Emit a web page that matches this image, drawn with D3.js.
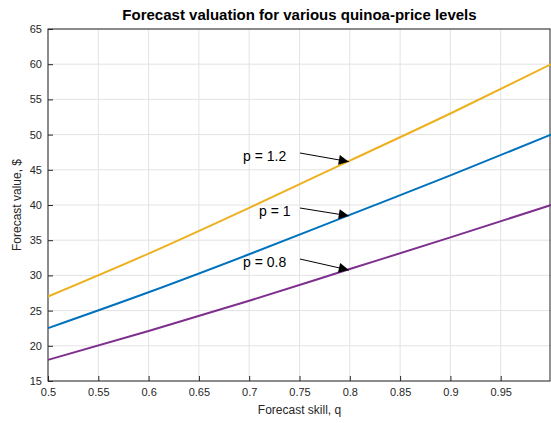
<!DOCTYPE html><html><head><script src="https://cdn.jsdelivr.net/npm/d3@7"></script>
<style>body{margin:0;background:#fff}text{font-family:"Liberation Sans",Arial,sans-serif}</style></head><body>
<svg id="c" width="551" height="423"></svg>
<script>
const qs=[0.5,0.6,0.7,0.8,0.9,1.0];
const p12=[27,33.1,39.6,46.3,53.0,60];
const p10=[22.5,27.6,33.0,38.6,44.2,50];
const p08=[18,22.1,26.4,30.9,35.4,40];
const xTicks=[0.5,0.55,0.6,0.65,0.7,0.75,0.8,0.85,0.9,0.95];
const yTicks=[15,20,25,30,35,40,45,50,55,60,65];
const labels=[{t:"p = 1.2",s:p12,lx:243,ly:161},{t:"p = 1",s:p10,lx:259,ly:216},{t:"p = 0.8",s:p08,lx:243,ly:267}];
const svg=d3.select("#c");
const L=48,R=551,T=29,B=381;
const x=d3.scaleLinear().domain([0.5,1]).range([L,R]);
const y=d3.scaleLinear().domain([15,65]).range([B,T]);
svg.append("defs").append("marker").attr("id","ah").attr("viewBox","0 0 10 10").attr("refX",10).attr("refY",5).attr("markerWidth",14).attr("markerHeight",10).attr("markerUnits","userSpaceOnUse").attr("orient","auto").append("path").attr("d","M0,0L10,5L0,10z").attr("fill","#000");
const g=svg.append("g");
xTicks.forEach(t=>g.append("line").attr("x1",x(t)).attr("x2",x(t)).attr("y1",T).attr("y2",B).attr("stroke","#e3e3e3"));
yTicks.forEach(t=>g.append("line").attr("x1",L).attr("x2",R).attr("y1",y(t)).attr("y2",y(t)).attr("stroke","#e3e3e3"));
const xa=svg.append("g").attr("transform",`translate(0,${B})`).call(d3.axisBottom(x).tickValues(xTicks).tickSize(-5).tickPadding(7).tickFormat(d=>d3.format("")(+d.toFixed(2))));
const ya=svg.append("g").attr("transform",`translate(${L},0)`).call(d3.axisLeft(y).tickValues(yTicks).tickSize(-5).tickPadding(6));
[xa,ya].forEach(a=>{a.select(".domain").remove();a.selectAll("text").attr("font-size",11).attr("fill","#262626");a.selectAll("line").attr("stroke","#262626")});
svg.append("rect").attr("x",L).attr("y",T).attr("width",R-L-1).attr("height",B-T).attr("fill","none").attr("stroke","#262626");
const line=d3.line().x((d,i)=>x(qs[i])).y(d=>y(d)).curve(d3.curveMonotoneX);
[[p12,"#edb120"],[p10,"#0072bd"],[p08,"#7e2f8e"]].forEach(([s,c])=>svg.append("path").attr("d",line(s)).attr("fill","none").attr("stroke",c).attr("stroke-width",2));
labels.forEach(l=>{svg.append("text").attr("x",l.lx).attr("y",l.ly).attr("font-size",14).text(l.t);
svg.append("line").attr("x1",300).attr("y1",l.ly-8).attr("x2",x(0.8)-1).attr("y2",y(l.s[3])+1).attr("stroke","#000").attr("marker-end","url(#ah)");});
svg.append("text").attr("x",(L+R)/2).attr("y",20).attr("text-anchor","middle").attr("font-size",15).attr("font-weight","bold").text("Forecast valuation for various quinoa-price levels");
svg.append("text").attr("x",(L+R)/2).attr("y",414).attr("text-anchor","middle").attr("font-size",12).attr("fill","#262626").text("Forecast skill, q");
svg.append("text").attr("transform",`translate(21,${(T+B)/2}) rotate(-90)`).attr("text-anchor","middle").attr("font-size",12).attr("fill","#262626").text("Forecast value, $");
</script></body></html>
